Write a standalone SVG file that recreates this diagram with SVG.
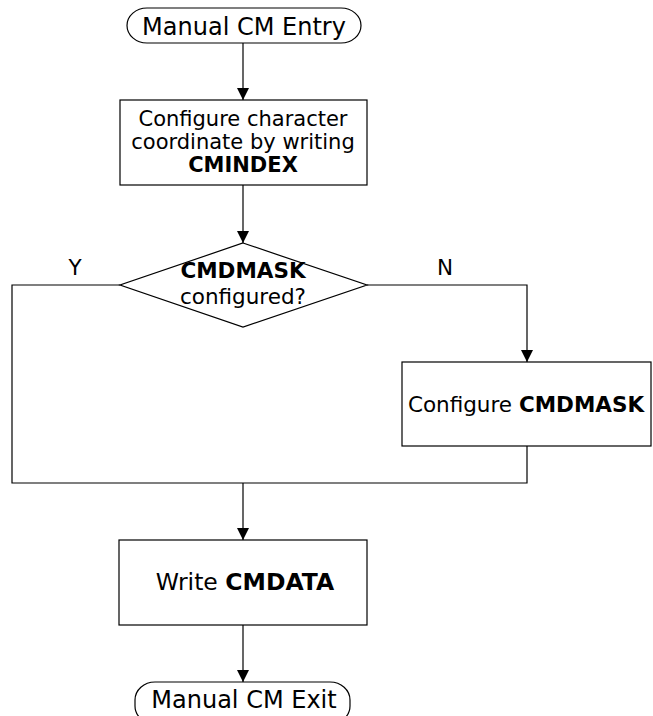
<svg xmlns="http://www.w3.org/2000/svg" width="653" height="716" viewBox="0 0 653 716">
<defs>
<style>
.s{fill:#fff;stroke:#000;stroke-width:1.2}
.c{fill:none;stroke:#000;stroke-width:1.2}
text{font-family:"DejaVu Sans",Verdana,sans-serif;fill:#000;text-anchor:middle}
.t{font-size:24px}
.b{font-size:21.5px}
.m{font-size:21px}
.k{font-weight:bold}
</style>
<marker id="ah" viewBox="0 0 10 10" refX="10" refY="5" markerWidth="12" markerHeight="12" markerUnits="userSpaceOnUse" orient="auto">
<path d="M0,0 L10,5 L0,10 z" fill="#000"/>
</marker>
</defs>
<g id="connectors">
<line class="c" x1="243" y1="43" x2="243" y2="100" marker-end="url(#ah)"/>
<line class="c" x1="243" y1="185" x2="243" y2="243" marker-end="url(#ah)"/>
<polyline class="c" points="367,285 527,285 527,362" marker-end="url(#ah)"/>
<polyline class="c" points="120,285 12,285 12,483 527,483 527,446"/>
<line class="c" x1="243" y1="483" x2="243" y2="540" marker-end="url(#ah)"/>
<line class="c" x1="243" y1="625" x2="243" y2="682" marker-end="url(#ah)"/>
<text class="b" x="75" y="275">Y</text>
<text class="b" x="445" y="275">N</text>
</g>
<g id="entry">
<rect class="s" x="127" y="8" width="234" height="35" rx="20" ry="17.5"/>
<text class="t" x="244" y="35">Manual CM Entry</text>
</g>
<g id="cmindex">
<rect class="s" x="120" y="100" width="247" height="85"/>
<text class="m" x="243" y="126">Configure character</text>
<text class="m" x="243" y="149">coordinate by writing</text>
<text class="m k" x="243" y="172">CMINDEX</text>
</g>
<g id="decision">
<polygon class="s" points="243,243 367,285 243,327 120,285"/>
<text class="b k" x="243" y="278">CMDMASK</text>
<text class="b" x="243" y="304">configured?</text>
</g>
<g id="cmdmask">
<rect class="s" x="402" y="362" width="249" height="84"/>
<text class="b" x="526" y="412">Configure <tspan class="k">CMDMASK</tspan></text>
</g>
<g id="cmdata">
<rect class="s" x="119" y="540" width="248" height="85"/>
<text x="245" y="590" style="font-size:23.5px">Write <tspan class="k">CMDATA</tspan></text>
</g>
<g id="exit">
<rect class="s" x="135" y="682" width="215" height="42" rx="20" ry="18"/>
<text class="t" x="244" y="708">Manual CM Exit</text>
</g>
</svg>
